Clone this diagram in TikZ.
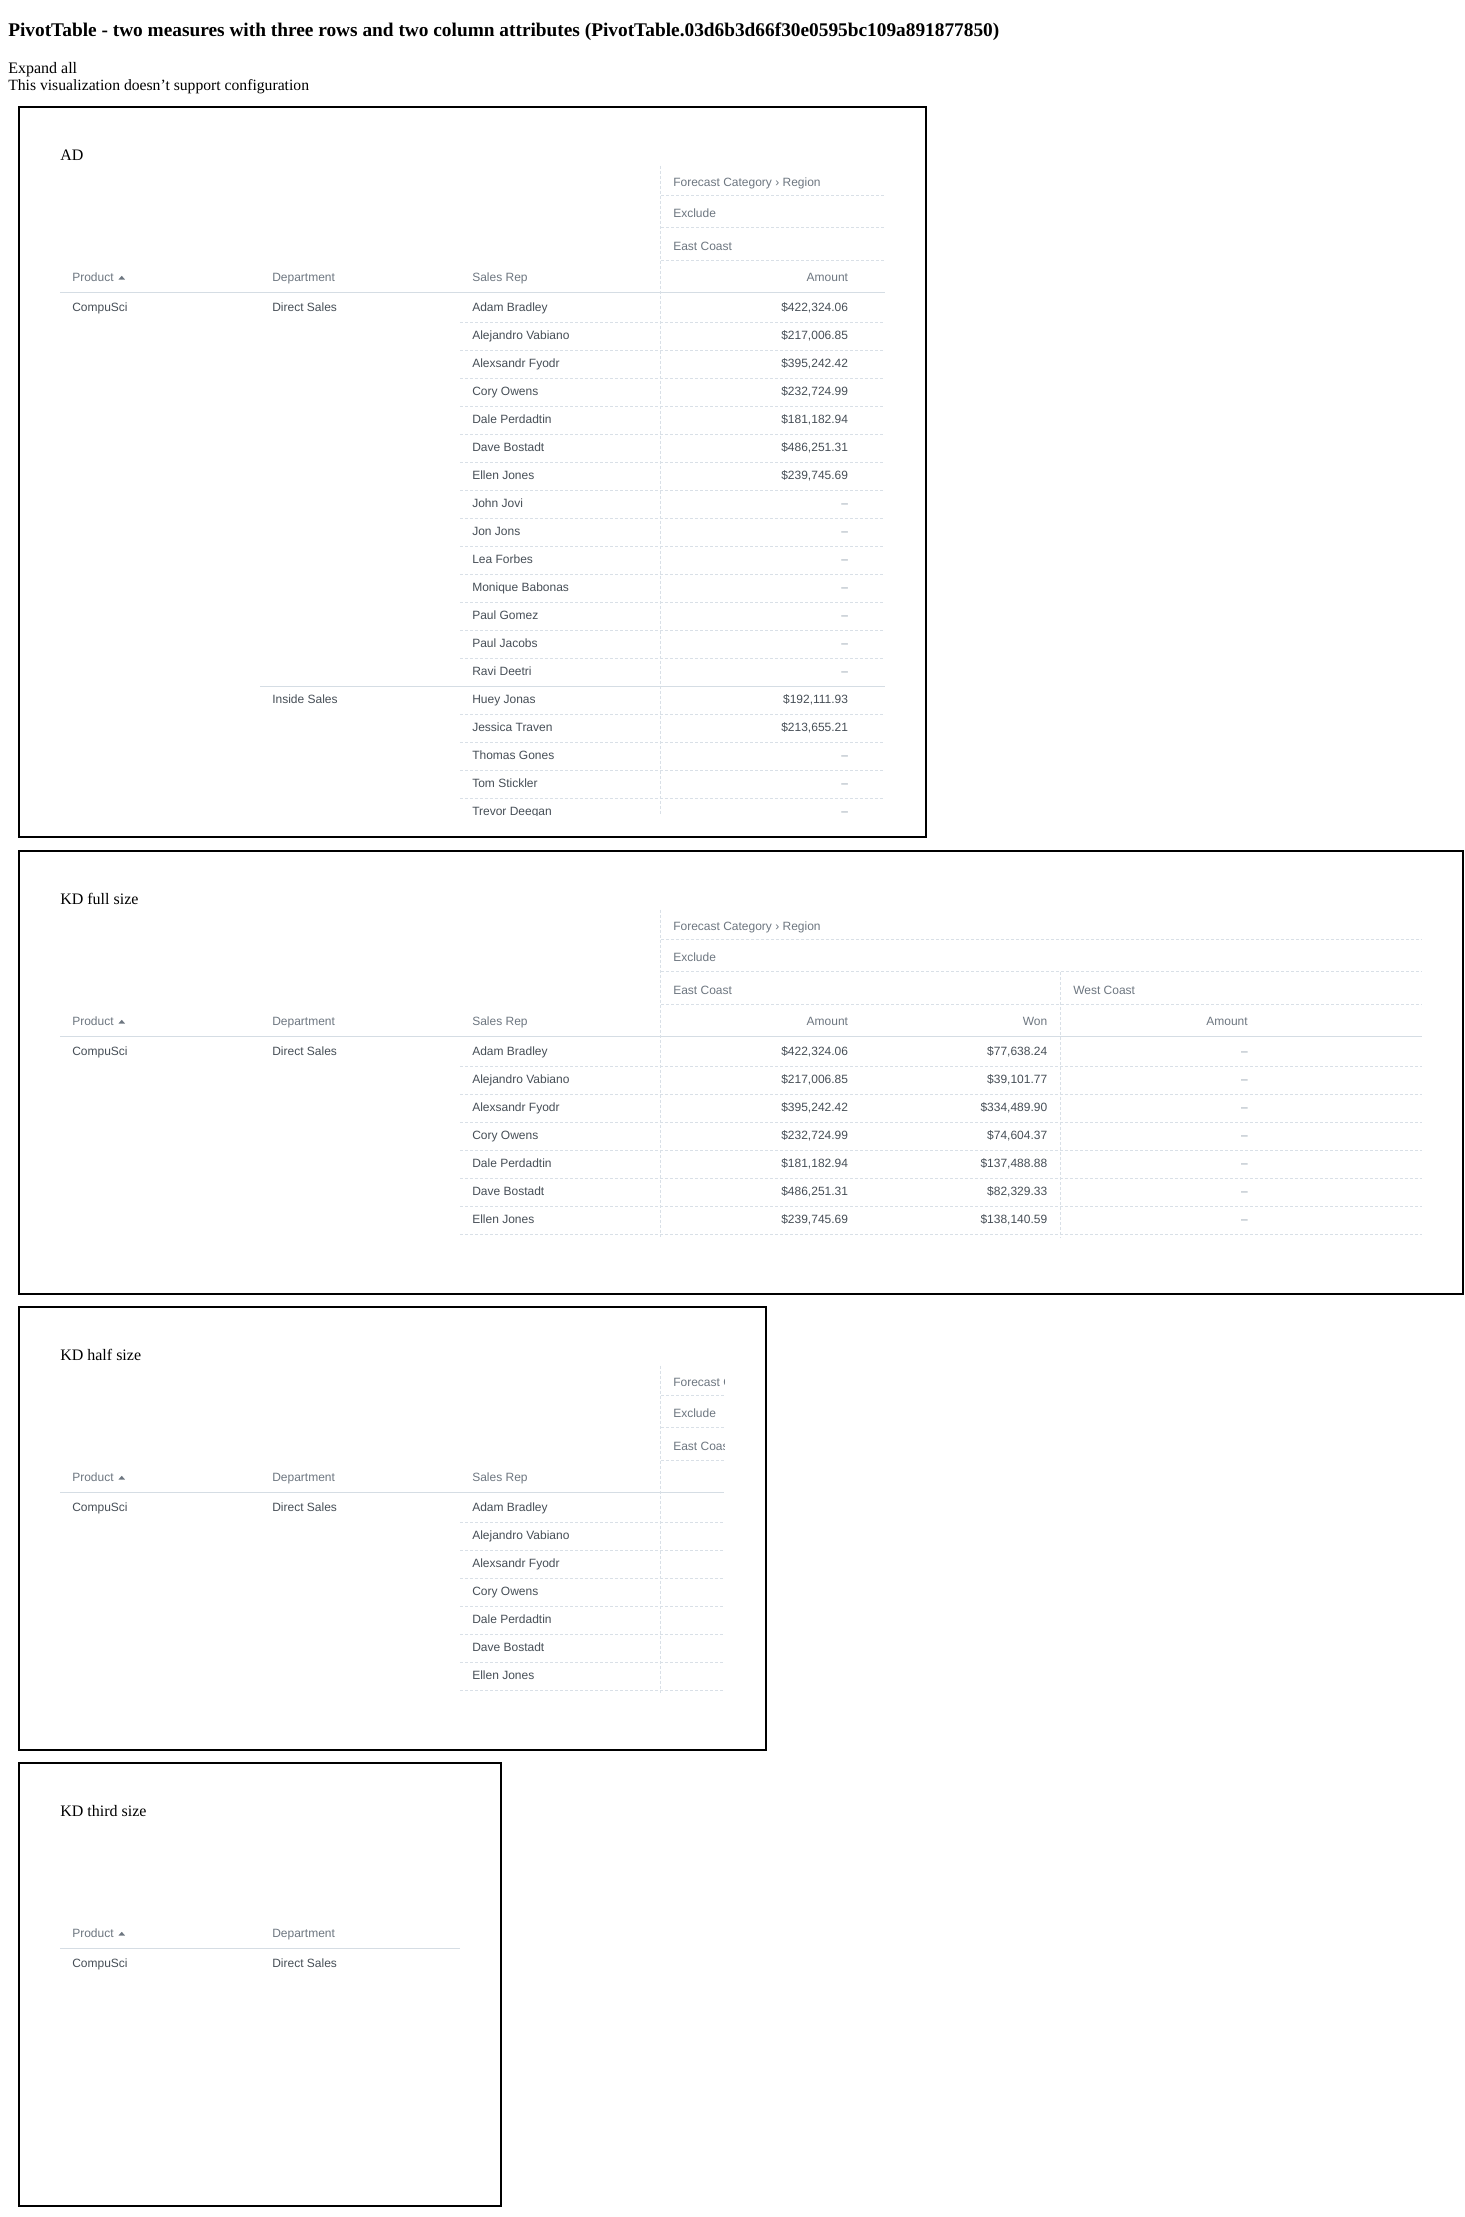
\documentclass[tikz,border=0pt]{standalone}
\usepackage{fontspec}
\setmainfont{Liberation Serif}
\setsansfont{Liberation Sans}
\usepackage{xcolor}
\definecolor{headgray}{HTML}{6D7680}
\definecolor{cellgray}{HTML}{464E56}
\definecolor{nodatagray}{HTML}{94A1AD}
\definecolor{rulegray}{HTML}{D5DDE4}
\definecolor{dashgray}{HTML}{D9E0E7}
\newcommand{\nodata}{\textcolor{nodatagray}{\textendash}}

\begin{document}
\begin{tikzpicture}[x=0.75pt,y=-0.75pt,
    vizbox/.style={draw=black,line width=1.5pt},
    pagetext/.style={anchor=base west,inner sep=0pt,font=\rmfamily\fontsize{12}{14}\selectfont},
    pagetitle/.style={pagetext,font=\rmfamily\bfseries\fontsize{14.5}{17}\selectfont},
    headcell/.style={anchor=base west,inner sep=0pt,text=headgray,font=\sffamily\fontsize{9}{11}\selectfont},
    headcellr/.style={headcell,anchor=base east},
    datacell/.style={anchor=base west,inner sep=0pt,text=cellgray,font=\sffamily\fontsize{9}{11}\selectfont},
    datacellr/.style={datacell,anchor=base east},
    headrule/.style={draw=rulegray,line width=0.75pt},
    rowrule/.style={draw=dashgray,line width=0.75pt,dash pattern=on 2.25pt off 1.5pt}]

    % fix the page size
    \useasboundingbox (0,0) rectangle (1464,2217);

    % page heading and text
    \node[pagetitle] (heading) at (8,36) {PivotTable - two measures with three rows and two column attributes (PivotTable.03d6b3d66f30e0595bc109a891877850)};
    \node[pagetext] (expand) at (8,73) {Expand all};
    \node[pagetext,font=\rmfamily\fontsize{11.75}{14}\selectfont] (noconfig) at (8,90.7) {This visualization doesn’t support configuration};

    % the parts every box has: frame, title, row headers, first row
    \foreach \shift/\bottom/\right/\rule/\name/\label in
        {0/837/925.5/885/ad/AD, 744/550/1463/1421.5/kdfull/KD full size,
         1200/550/765.5/724/kdhalf/KD half size, 1656/550/500.5/460/kdthird/KD third size}{
        \begin{scope}[shift={(0,\shift)}]
            \draw[vizbox] (19,106.5) rectangle (\right,\bottom);
            \node[pagetext] (\name-title) at (60,160.7) {\label};
            \node[headcell] (\name-product) at (72,281.7) {Product};
            \fill[headgray] (118.5,279.5) -- (125,279.5) -- (121.75,275.8) -- cycle;
            \node[headcell] (\name-department) at (272,281.7) {Department};
            \draw[headrule] (60,292.3) -- (\rule,292.3);
            \node[datacell] (\name-compusci) at (72,311.7) {CompuSci};
            \node[datacell] (\name-direct) at (272,311.7) {Direct Sales};
        \end{scope}
    }

    %AD
    \node[headcell] (ad-salesrep) at (472,281.7) {Sales Rep};
    \draw[rowrule] (661,195) -- (885,195);
    \draw[rowrule] (661,227.7) -- (885,227.7);
    \draw[rowrule] (661,260) -- (885,260);
    \node[headcell] (ad-category) at (673,186) {Forecast Category › Region};
    \node[headcell] (ad-exclude) at (673,217.3) {Exclude};
    \node[headcell] (ad-east) at (673,250) {East Coast};
    \node[headcellr] (ad-amount) at (848.3,281.7) {Amount};
    \node[datacell] (ad-inside) at (272,703.7) {Inside Sales};
    \begin{scope}
        \clip (0,160) rectangle (1464,815);
        \draw[rowrule] (660.5,165.5) -- (660.5,815);
        \foreach \rep/\amt [count=\k from 0] in {Adam Bradley/{\$422,324.06},
            Alejandro Vabiano/{\$217,006.85}, Alexsandr Fyodr/{\$395,242.42},
            Cory Owens/{\$232,724.99}, Dale Perdadtin/{\$181,182.94},
            Dave Bostadt/{\$486,251.31}, Ellen Jones/{\$239,745.69},
            John Jovi/\nodata, Jon Jons/\nodata, Lea Forbes/\nodata,
            Monique Babonas/\nodata, Paul Gomez/\nodata, Paul Jacobs/\nodata,
            Ravi Deetri/\nodata, Huey Jonas/{\$192,111.93},
            Jessica Traven/{\$213,655.21}, Thomas Gones/\nodata,
            Tom Stickler/\nodata, Trevor Deegan/\nodata}{
            \node[datacell] (ad-rep-\k) at (472,{311.7+28*\k}) {\rep};
            \node[datacellr] (ad-amt-\k) at (848.3,{311.7+28*\k}) {\amt};
        }
        \foreach \k in {0,...,12,14,15,16,17}
            \draw[rowrule] (460,{322.3+28*\k}) -- (885,{322.3+28*\k});
        % group line under Direct Sales
        \draw[headrule] (260,686.3) -- (885,686.3);
    \end{scope}

    %KD full size
    \begin{scope}[shift={(0,744)}]
        \node[headcell] (kdfull-salesrep) at (472,281.7) {Sales Rep};
        \draw[rowrule] (660.5,165.5) -- (660.5,493);
        \draw[rowrule] (1060.3,227.7) -- (1060.3,493);
        \draw[rowrule] (661,195) -- (1421.5,195);
        \draw[rowrule] (661,227.7) -- (1421.5,227.7);
        \draw[rowrule] (661,260) -- (1421.5,260);
        \node[headcell] (kdfull-category) at (673,186) {Forecast Category › Region};
        \node[headcell] (kdfull-exclude) at (673,217.3) {Exclude};
        \node[headcell] (kdfull-east) at (673,250) {East Coast};
        \node[headcell] (kdfull-west) at (1073,250) {West Coast};
        \node[headcellr] (kdfull-amount) at (848.3,281.7) {Amount};
        \node[headcellr] (kdfull-won) at (1047.5,281.7) {Won};
        \node[headcellr] (kdfull-westamount) at (1248,281.7) {Amount};
        \foreach \rep/\amt/\won [count=\k from 0] in {Adam Bradley/{\$422,324.06}/{\$77,638.24},
            Alejandro Vabiano/{\$217,006.85}/{\$39,101.77}, Alexsandr Fyodr/{\$395,242.42}/{\$334,489.90},
            Cory Owens/{\$232,724.99}/{\$74,604.37}, Dale Perdadtin/{\$181,182.94}/{\$137,488.88},
            Dave Bostadt/{\$486,251.31}/{\$82,329.33}, Ellen Jones/{\$239,745.69}/{\$138,140.59}}{
            \node[datacell] (kdfull-rep-\k) at (472,{311.7+28*\k}) {\rep};
            \node[datacellr] (kdfull-amt-\k) at (848.3,{311.7+28*\k}) {\amt};
            \node[datacellr] (kdfull-won-\k) at (1047.5,{311.7+28*\k}) {\won};
            \node[datacellr] (kdfull-west-\k) at (1248,{311.7+28*\k}) {\nodata};
            \draw[rowrule] (460,{322.3+28*\k}) -- (1421.5,{322.3+28*\k});
        }
    \end{scope}

    %KD half size, cut off on the right
    \begin{scope}[shift={(0,1200)}]
        \node[headcell] (kdhalf-salesrep) at (472,281.7) {Sales Rep};
        \begin{scope}
            \clip (0,160) rectangle (724,500);
            \draw[rowrule] (660.5,165.5) -- (660.5,493);
            \draw[rowrule] (661,195) -- (724,195);
            \draw[rowrule] (661,227.7) -- (724,227.7);
            \draw[rowrule] (661,260) -- (724,260);
            \node[headcell] (kdhalf-category) at (673,186) {Forecast Category › Region};
            \node[headcell] (kdhalf-exclude) at (673,217.3) {Exclude};
            \node[headcell] (kdhalf-east) at (673,250) {East Coast};
        \end{scope}
        \foreach \rep [count=\k from 0] in {Adam Bradley, Alejandro Vabiano, Alexsandr Fyodr,
            Cory Owens, Dale Perdadtin, Dave Bostadt, Ellen Jones}{
            \node[datacell] (kdhalf-rep-\k) at (472,{311.7+28*\k}) {\rep};
            \draw[rowrule] (460,{322.3+28*\k}) -- (724,{322.3+28*\k});
        }
    \end{scope}

\end{tikzpicture}
\end{document}
